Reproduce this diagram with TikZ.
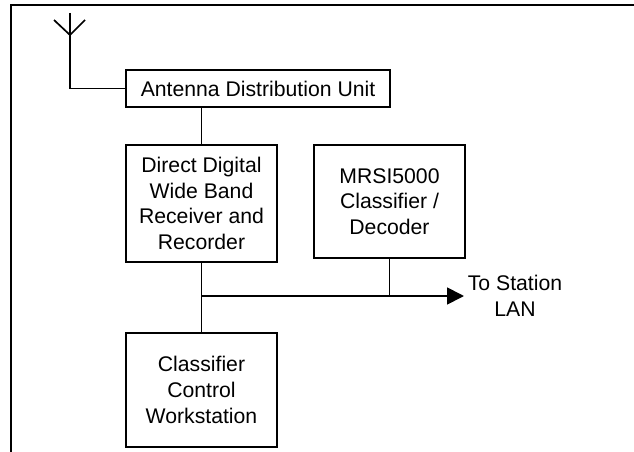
\documentclass[tikz,border=0pt]{standalone}
\usepackage{fontspec}
\setmainfont{Liberation Sans}
\usetikzlibrary{arrows.meta}

\tikzset{
  block/.style={draw, line width=1.7pt, align=center, inner sep=0pt, font=\fontsize{21.2}{25.8}\selectfont},
  wire/.style={line width=1.7pt},
}

\begin{document}
\begin{tikzpicture}[x=1pt, y=-1pt]
    \useasboundingbox (0, 0) rectangle (634, 452);
    % frame
    \coordinate (fb) at (11, 452);
    \coordinate (ft) at (11, 5);
    \coordinate (fr) at (634, 5);
    \draw[line width=2.6pt] (fb) -- (ft) -- (fr);

    % blocks
    \node[block, minimum width=264pt, minimum height=37pt] (adu) at (258, 88.5) {Antenna Distribution Unit};
    \node[block, minimum width=151pt, minimum height=117pt] (rec) at (201.5, 203.5) {Direct Digital\\Wide Band\\Receiver and\\Recorder};
    \node[block, minimum width=151pt, minimum height=113pt] (mrsi) at (389.5, 201.5) {MRSI5000\\Classifier /\\Decoder};
    \node[block, minimum width=151pt, minimum height=114pt] (ccw) at (201.5, 390) {Classifier\\Control\\Workstation};
    \node[align=center, inner sep=0pt, font=\fontsize{21.2}{25.8}\selectfont] (lan) at (515, 296) {To Station\\LAN};

    % antenna
    \coordinate (top) at (70, 13);
    \coordinate (joint) at (70, 35);
    \coordinate (armL) at (54, 20);
    \coordinate (armR) at (85, 20);
    \coordinate (bend) at (70, 88.5);
    \draw[wire] (top) -- (joint);
    \draw[wire] (armL) -- (joint) -- (armR);
    \draw[wire] (joint) -- (bend) -- (adu.west);

    % connections
    \coordinate (busL) at (201.5, 296);
    \coordinate (busM) at (389.5, 296);
    \coordinate (busR) at (464, 296);
    \draw[wire] (adu.south -| rec.north) -- (rec.north);
    \draw[wire] (rec.south) -- (ccw.north);
    \draw[wire] (mrsi.south) -- (busM);
    \draw[wire, -{Triangle[length=17pt, width=17pt]}] (busL) -- (busR);
\end{tikzpicture}
\end{document}
